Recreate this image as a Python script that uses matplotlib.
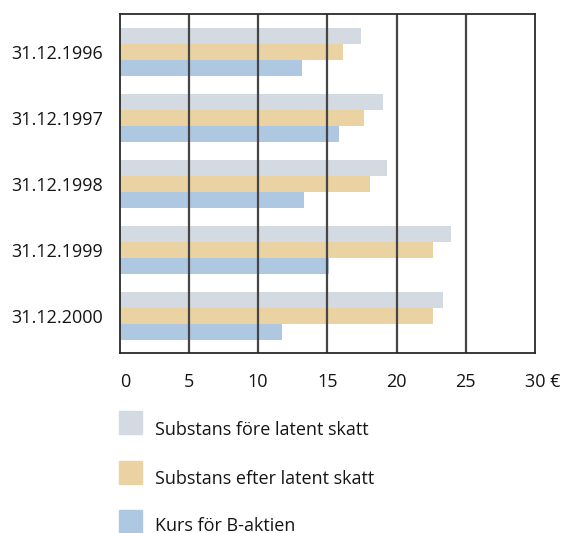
import matplotlib
matplotlib.use("Agg")
import matplotlib.pyplot as plt
from matplotlib.patches import Rectangle
from matplotlib.transforms import ScaledTranslation
import numpy as np

plt.rcParams['font.family'] = ['Open Sans', 'DejaVu Sans']

dates = ["31.12.1996", "31.12.1997", "31.12.1998", "31.12.1999", "31.12.2000"]
fore_skatt = [17.4, 19.0, 19.3, 23.9, 23.35]
efter_skatt = [16.1, 17.65, 18.1, 22.6, 22.6]
kurs_b = [13.2, 15.85, 13.3, 15.1, 11.7]
series_names = ["Substans före latent skatt", "Substans efter latent skatt", "Kurs för B-aktien"]
colors = ["#d3dae1", "#ebd2a2", "#aec8e2"]
xticks = [0, 5, 10, 15, 20, 25, 30]
xticklabels = ["0", "5", "10", "15", "20", "25", "30 €"]

W, H = 567, 533
FS = 13
TC = "#151515"
fig = plt.figure(figsize=(W / 100, H / 100), dpi=100)
ax = fig.add_axes([119.7 / W, 1 - 353 / H, (535 - 119.7) / W, (353 - 14) / H])

y = np.arange(len(dates))
h = 0.2424
for i, (vals, c) in enumerate(zip([fore_skatt, efter_skatt, kurs_b], colors)):
    ax.barh(y + (i - 1) * h, vals, height=h, color=c, zorder=1)

ax.set_xlim(0, 30)
ax.set_ylim(4.56, -0.576)
for xv in xticks[1:-1]:
    ax.axvline(xv, color="#454545", lw=1.6, zorder=3)

for s in ax.spines.values():
    s.set_color("#2a2a2a")
    s.set_linewidth(1.3)
    s.set_zorder(4)

ax.set_yticks(y)
ax.set_yticklabels(dates, fontsize=FS, color=TC)
ax.set_xticks(xticks)
ax.set_xticklabels(xticklabels, fontsize=FS, color=TC)
ax.tick_params(length=0)
ax.tick_params(axis='y', pad=12)
ax.tick_params(axis='x', pad=24.5)
labels = ax.get_xticklabels()
for lbl in labels:
    lbl.set_verticalalignment("baseline")
labels[0].set_ha("left")
labels[-1].set_ha("left")
labels[-1].set_transform(labels[-1].get_transform() + ScaledTranslation(-0.10, 0, fig.dpi_scale_trans))

legend_y = [411, 461, 510]
baselines = [435, 484, 531]
for name, c, ly, bl in zip(series_names, colors, legend_y, baselines):
    fig.patches.append(Rectangle((119 / W, 1 - (ly + 23) / H), 23 / W, 23 / H,
                                 transform=fig.transFigure, color=c, figure=fig))
    fig.text(155 / W, 1 - bl / H, name, fontsize=FS, color=TC,
             ha="left", va="baseline")

fig.savefig("out.png", dpi=100)
